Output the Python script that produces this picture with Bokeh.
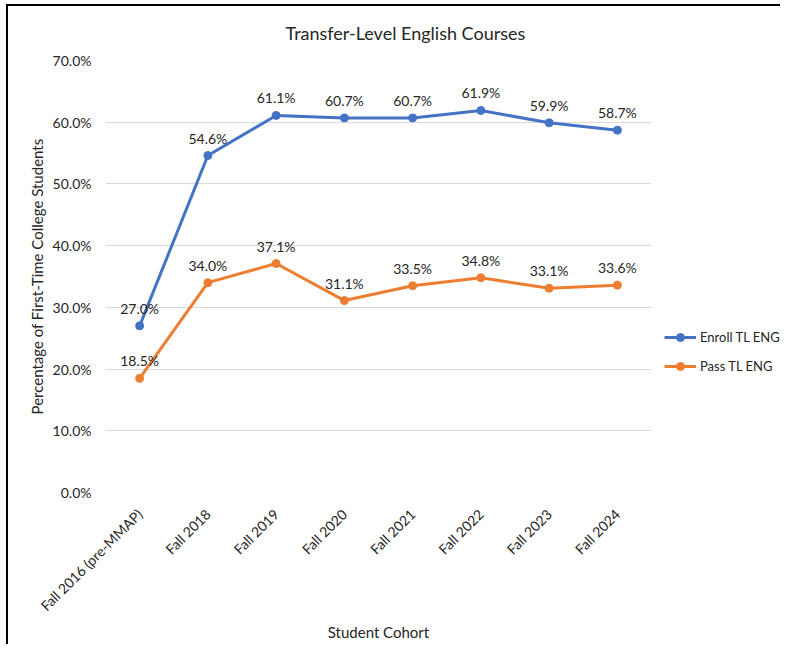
from bokeh.plotting import figure
from bokeh.layouts import row
from bokeh.models import (ColumnDataSource, FactorRange, Range1d, FixedTicker, PrintfTickFormatter,
                          LabelSet, Legend, LegendItem)
from bokeh.core.properties import value
from bokeh.embed import file_html
from bokeh.resources import INLINE
from math import pi

cohorts = ["Fall 2016 (pre-MMAP)", "Fall 2018", "Fall 2019", "Fall 2020",
           "Fall 2021", "Fall 2022", "Fall 2023", "Fall 2024"]
enroll = [27.0, 54.6, 61.1, 60.7, 60.7, 61.9, 59.9, 58.7]
passed = [18.5, 34.0, 37.1, 31.1, 33.5, 34.8, 33.1, 33.6]
y_ticks = [0, 10, 20, 30, 40, 50, 60, 70]
series_names = ["Enroll TL ENG", "Pass TL ENG"]

FONT = "Lato"
TXT = "#262626"
BLUE = "#4472C4"
ORANGE = "#ED7D31"

src = ColumnDataSource(dict(
    x=cohorts, enroll=enroll, passed=passed,
    enroll_lbl=[f"{v:.1f}%" for v in enroll],
    passed_lbl=[f"{v:.1f}%" for v in passed],
))

p = figure(width=643, height=638, x_range=FactorRange(factors=cohorts),
           y_range=Range1d(0, 70), output_backend="svg", toolbar_location=None,
           min_border_left=97, min_border_right=0, min_border_top=54, min_border_bottom=150,
           title="Transfer-Level English Courses")
p.outline_line_color = None
p.background_fill_color = "white"
p.border_fill_color = "white"

p.title.align = "left"
p.title.offset = 180
p.title.vertical_align = "top"
p.title.text_font = FONT
p.title.text_font_size = "18px"
p.title.text_font_style = "normal"
p.title.text_color = TXT
p.title.standoff = 30

p.xgrid.grid_line_color = None
p.ygrid.grid_line_color = "#D9D9D9"
p.ygrid.grid_line_width = 1

p.yaxis.ticker = FixedTicker(ticks=y_ticks)
p.yaxis.formatter = PrintfTickFormatter(format="%.1f%%")
for ax in (p.xaxis, p.yaxis):
    ax.axis_line_color = None
    ax.major_tick_line_color = None
    ax.minor_tick_line_color = None
    ax.major_label_text_font = FONT
    ax.major_label_text_color = TXT
    ax.axis_label_text_font = FONT
    ax.axis_label_text_font_style = "normal"
    ax.axis_label_text_color = TXT
    ax.axis_label_text_font_size = "15px"
p.yaxis.major_label_text_font_size = "14px"
p.xaxis.major_label_text_font_size = "14px"
p.xaxis.major_label_orientation = pi / 4
p.xaxis.major_label_standoff = 13
p.xaxis.axis_label = "Student Cohort"
p.xaxis.axis_label_standoff = 0
p.yaxis.major_label_standoff = 8
p.yaxis.axis_label = "Percentage of First-Time College Students"
p.yaxis.axis_label_standoff = 4

p.line("x", "enroll", source=src, color=BLUE, line_width=3)
p.scatter("x", "enroll", source=src, color=BLUE, size=8)
p.line("x", "passed", source=src, color=ORANGE, line_width=3)
p.scatter("x", "passed", source=src, color=ORANGE, size=8)

for col, lbl in (("enroll", "enroll_lbl"), ("passed", "passed_lbl")):
    p.add_layout(LabelSet(x="x", y=col, text=lbl, source=src, text_align="center",
                          text_baseline="bottom", y_offset=9, text_font=value(FONT),
                          text_font_size="14px", text_color=TXT))

# legend panel: companion figure whose (off-range) copies of the series feed the legend
lg = figure(width=129, height=638, output_backend="svg", toolbar_location=None,
            min_border=0, x_range=FactorRange(factors=cohorts), y_range=Range1d(-2, -1))
lg.axis.visible = False
lg.grid.visible = False
lg.outline_line_color = None
lg.background_fill_color = "white"
lg.border_fill_color = "white"
items = []
for name, col, color in zip(series_names, ("enroll", "passed"), (BLUE, ORANGE)):
    r1 = lg.line("x", col, source=src, color=color, line_width=3)
    r2 = lg.scatter("x", col, source=src, color=color, size=8)
    items.append(LegendItem(label=name, renderers=[r1, r2]))
legend = Legend(items=items, location=(13, 116), label_text_font=FONT,
                label_text_font_size="13px", label_text_color=TXT, glyph_width=32,
                label_standoff=4, spacing=9, padding=0, margin=0,
                border_line_color=None, background_fill_alpha=0)
lg.add_layout(legend)

layout = row(p, lg, spacing=0)
layout.margin = (4, 0, 0, 6)
layout.styles = {"border-left": "2px solid #000", "border-top": "2px solid #000"}

out = file_html(layout, INLINE)
open("out.html", "w").write(out)
